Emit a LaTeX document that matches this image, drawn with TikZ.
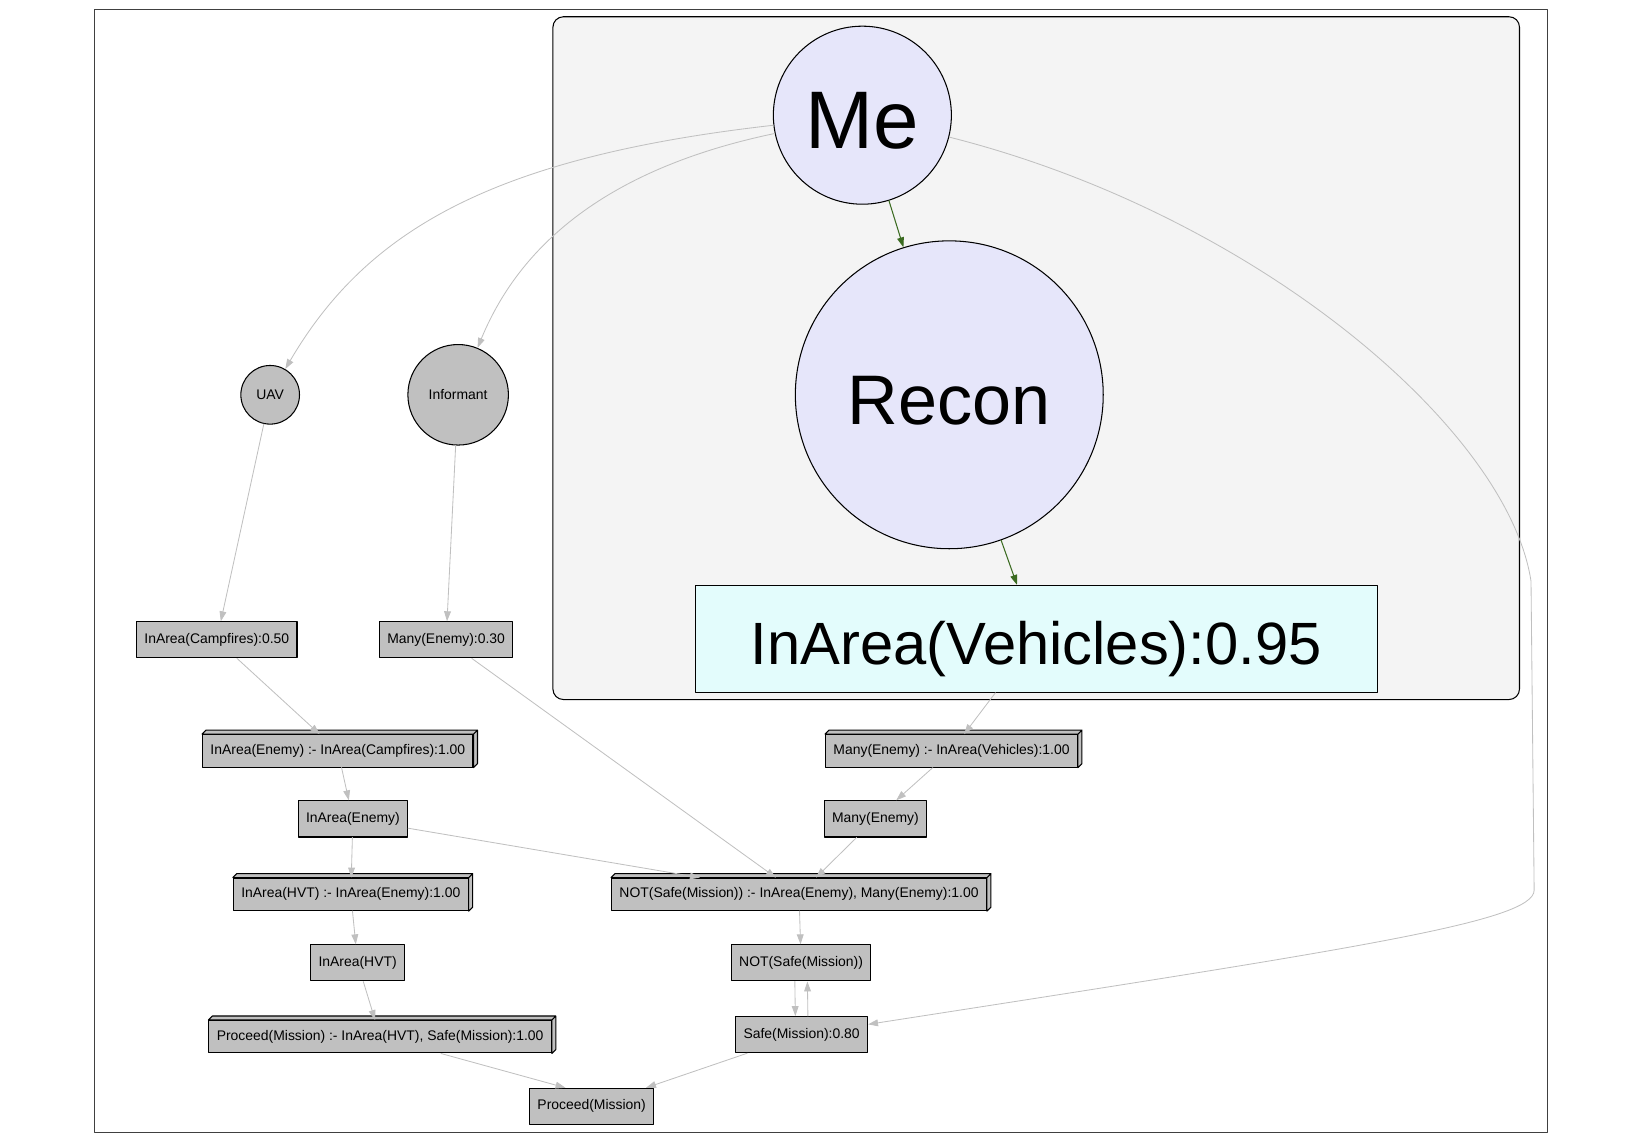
\documentclass[tikz,border=0pt]{standalone}
\usepackage{fontspec}
\setmainfont{Liberation Sans}
\usetikzlibrary{arrows.meta}
\definecolor{nodegray}{HTML}{C0C0C0}
\definecolor{edgegray}{HTML}{C0C0C0}
\definecolor{agentblue}{HTML}{E6E6FA}
\definecolor{factcyan}{HTML}{E3FCFC}
\definecolor{clustergray}{HTML}{F4F4F4}
\definecolor{recongreen}{HTML}{3B6B21}
\begin{document}
\begin{tikzpicture}[x=1pt,y=-1pt,line cap=round,line join=round,>={Triangle[length=9.5pt,width=6.5pt]},
	factbox/.style={draw=black,line width=1pt,fill=nodegray,minimum height=34.5pt,inner xsep=7.5pt,inner ysep=0pt,font=\fontsize{13.3pt}{16pt}\selectfont},
	rulebox/.style={factbox,minimum height=31pt,append after command={\pgfextra{\draw[line width=1pt,fill=nodegray] (\tikzlastnode.north west) -- ++(3.8,-3.8) -- ([shift={(3.8,-3.8)}]\tikzlastnode.north east) -- ([shift={(3.8,-3.8)}]\tikzlastnode.south east) -- (\tikzlastnode.south east) -- (\tikzlastnode.north east) -- cycle (\tikzlastnode.north east) -- ++(3.8,-3.8);}}},
	agent/.style={circle,draw=black,line width=1pt,fill=nodegray,inner sep=0pt,font=\fontsize{13.3pt}{16pt}\selectfont},
	bigagent/.style={agent,fill=agentblue},
	link/.style={->,draw=edgegray,line width=0.8pt},
	reconlink/.style={->,draw=recongreen,line width=1pt}]
		\useasboundingbox (0,0) rectangle (1568,1091.5);
		\draw [line width=1pt,draw=black!75] (90,9) rectangle (1478,1081);
		\draw [line width=1pt,fill=clustergray,rounded corners=10pt] (528,16) rectangle (1451,668);
		\node[bigagent,minimum size=170pt,text height=64pt,text depth=0pt,font=\fontsize{78pt}{90pt}\selectfont] (me) at (823.5,110) {Me};
		\node[bigagent,minimum size=294pt,text height=56pt,text depth=0pt,font=\fontsize{67pt}{80pt}\selectfont] (recon) at (906.5,377) {Recon};
		\node[draw=black,line width=1pt,fill=factcyan,minimum width=651pt,minimum height=102pt,text height=50pt,text depth=0pt,font=\fontsize{57pt}{66pt}\selectfont] (vehicles) at (989.5,610) {InArea(Vehicles):0.95};
		\node[agent,minimum size=56pt] (uav) at (258,377) {UAV};
		\node[agent,minimum size=96pt] (informant) at (437.5,377) {Informant};
		\node[factbox] (campfires) at (207,611) {InArea(Campfires):0.50};
		\node[factbox] (manyprior) at (426,611) {Many(Enemy):0.30};
		\node[rulebox] (enemyrule) at (322.6,717) {InArea(Enemy) :- InArea(Campfires):1.00};
		\node[factbox] (inenemy) at (337,782) {InArea(Enemy)};
		\node[rulebox] (hvtrule) at (335,854) {InArea(HVT) :- InArea(Enemy):1.00};
		\node[factbox] (inhvt) at (341.5,919.5) {InArea(HVT)};
		\node[rulebox] (procrule) at (363,990) {Proceed(Mission) :- InArea(HVT), Safe(Mission):1.00};
		\node[factbox] (proceed) at (565,1056.5) {Proceed(Mission)};
		\node[rulebox] (manyrule) at (908.6,717) {Many(Enemy) :- InArea(Vehicles):1.00};
		\node[factbox] (manyenemy) at (836,782) {Many(Enemy)};
		\node[rulebox] (notrule) at (763,854) {NOT(Safe(Mission)) :- InArea(Enemy), Many(Enemy):1.00};
		\node[factbox] (notsafe) at (765,919.5) {NOT(Safe(Mission))};
		\node[factbox] (safe) at (765.5,988) {Safe(Mission):0.80};
		\draw[reconlink] (me) -- (recon);
		\draw[reconlink] (recon) -- (vehicles);
		\draw[link] (me) .. controls (470,150) and (350,220) .. (uav);
		\draw[link] (me) .. controls (560,165) and (490,250) .. (informant);
		\draw[link] (me) .. controls (1200,205) and (1440,410) .. (1462,555) -- (1465,850) .. controls (1465,880) and (1300,905) .. (safe);
		\draw[link] (uav) -- (campfires);
		\draw[link] (informant) -- (manyprior);
		\draw[link] (campfires) -- (enemyrule);
		\draw[link] (enemyrule) -- (inenemy);
		\draw[link] (inenemy) -- (hvtrule);
		\draw[link] (inenemy) -- (notrule);
		\draw[link] (manyprior) -- (notrule);
		\draw[link] (hvtrule) -- (inhvt);
		\draw[link] (inhvt) -- (procrule);
		\draw[link] (procrule) -- ([xshift=-25pt]proceed.north);
		\draw[link] (safe) -- (proceed);
		\draw[link] (vehicles) -- (manyrule);
		\draw[link] (manyrule) -- (manyenemy);
		\draw[link] (manyenemy) -- (notrule);
		\draw[link] (notrule) -- (notsafe);
		\draw[link] ([xshift=-6pt]notsafe.south) -- ([xshift=-6pt]safe.north);
		\draw[link] ([xshift=6pt]safe.north) -- ([xshift=6pt]notsafe.south);
	\end{tikzpicture}
\end{document}
